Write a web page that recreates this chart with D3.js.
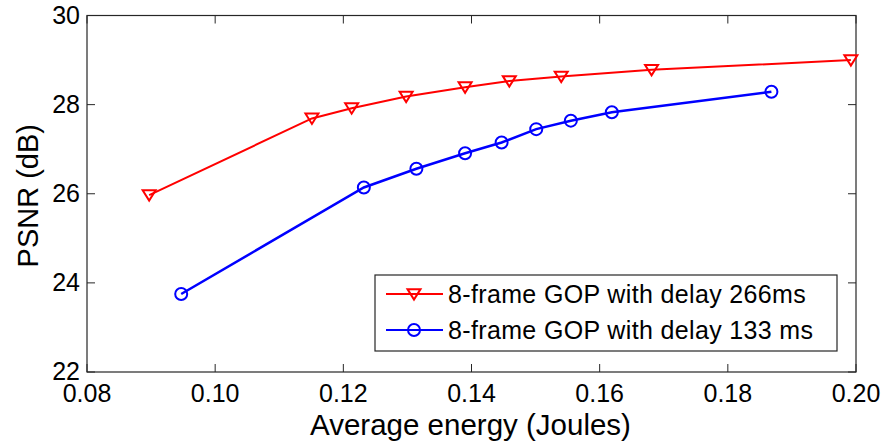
<!DOCTYPE html>
<html>
<head>
<meta charset="utf-8">
<script src="https://cdn.jsdelivr.net/npm/d3@7"></script>
<style>
  body { margin: 0; background: #fff; }
  svg { display: block; font-family: "Liberation Sans", Arial, sans-serif; }
</style>
</head>
<body>
<svg id="svg" width="886" height="444"></svg>
<script>
const w = 886;
const h = 444;
const padLeft = 87, padRight = 856, padTop = 15.5, padBottom = 372;

// data
const energy266 = [0.0897, 0.1151, 0.1213, 0.1298, 0.1390, 0.1459, 0.1540, 0.1681, 0.1992];
const psnr266 = [25.97, 27.69, 27.92, 28.18, 28.39, 28.53, 28.63, 28.78, 29.0];
const energy133 = [0.0947, 0.1232, 0.1314, 0.1390, 0.1447, 0.1501, 0.1555, 0.1619, 0.1868];
const psnr133 = [23.75, 26.14, 26.56, 26.91, 27.15, 27.45, 27.64, 27.83, 28.29];
const xTicks = [0.08, 0.10, 0.12, 0.14, 0.16, 0.18, 0.20];
const yTicks = [22, 24, 26, 28, 30];
const seriesNames = ["8-frame GOP with delay 266ms", "8-frame GOP with delay 133 ms"];

let svg = d3.select("#svg");

let xScale = d3.scaleLinear([0.08, 0.20], [padLeft, padRight]);
let yScale = d3.scaleLinear([22, 30], [padBottom, padTop]);

const tickLen = 8;
const axisColor = "#262626";

// ticks, inward on all four sides
let tickG = svg.append("g").attr("stroke", axisColor).attr("stroke-width", 1);
xTicks.forEach((t) => {
  tickG.append("line").attr("x1", xScale(t)).attr("x2", xScale(t)).attr("y1", padBottom).attr("y2", padBottom - tickLen);
  tickG.append("line").attr("x1", xScale(t)).attr("x2", xScale(t)).attr("y1", padTop).attr("y2", padTop + tickLen);
});
yTicks.forEach((t) => {
  tickG.append("line").attr("y1", yScale(t)).attr("y2", yScale(t)).attr("x1", padLeft).attr("x2", padLeft + tickLen);
  tickG.append("line").attr("y1", yScale(t)).attr("y2", yScale(t)).attr("x1", padRight).attr("x2", padRight - tickLen);
});

// frame
svg.append("rect")
  .attr("x", padLeft).attr("y", padTop)
  .attr("width", padRight - padLeft).attr("height", padBottom - padTop)
  .attr("fill", "none").attr("stroke", axisColor).attr("stroke-width", 1.2);

// tick labels
svg.append("g").selectAll("text").data(xTicks).join("text")
  .attr("x", (d) => xScale(d)).attr("y", 402)
  .attr("text-anchor", "middle").attr("font-size", 25).attr("fill", "#000")
  .text((d) => d3.format(".2f")(d));

svg.append("g").selectAll("text").data(yTicks).join("text")
  .attr("x", 80).attr("y", (d) => yScale(d) + 8)
  .attr("text-anchor", "end").attr("font-size", 25).attr("fill", "#000")
  .text((d) => d);

// axis titles
svg.append("text")
  .attr("x", (padLeft + padRight) / 2 - 1).attr("y", 435)
  .attr("text-anchor", "middle").attr("font-size", 29.5)
  .text("Average energy (Joules)");

svg.append("text")
  .attr("transform", `translate(38, ${(padTop + padBottom) / 2 + 2}) rotate(-90)`)
  .attr("text-anchor", "middle").attr("font-size", 29)
  .text("PSNR (dB)");

// lines
let lineFunc = d3.line()
  .x((d) => xScale(d[0]))
  .y((d) => yScale(d[1]));

const data266 = energy266.map((e, i) => [e, psnr266[i]]);
const data133 = energy133.map((e, i) => [e, psnr133[i]]);

const triPath = (s) => `M${-s},${-s * 0.75}L${s},${-s * 0.75}L0,${s * 0.85}Z`;

svg.append("path").datum(data266)
  .attr("fill", "none").attr("stroke", "#ff0000").attr("stroke-width", 2)
  .attr("d", lineFunc);
svg.append("g").selectAll("path").data(data266).join("path")
  .attr("transform", (d) => `translate(${xScale(d[0])},${yScale(d[1])})`)
  .attr("d", triPath(6.5))
  .attr("fill", "none").attr("stroke", "#ff0000").attr("stroke-width", 2);

svg.append("path").datum(data133)
  .attr("fill", "none").attr("stroke", "#0000ff").attr("stroke-width", 2.5)
  .attr("d", lineFunc);
svg.append("g").selectAll("circle").data(data133).join("circle")
  .attr("cx", (d) => xScale(d[0])).attr("cy", (d) => yScale(d[1]))
  .attr("r", 6)
  .attr("fill", "none").attr("stroke", "#0000ff").attr("stroke-width", 2);

// legend
let legend = svg.append("g");
legend.append("rect")
  .attr("x", 375).attr("y", 275).attr("width", 462).attr("height", 76)
  .attr("fill", "#fff").attr("stroke", axisColor).attr("stroke-width", 1.2);

const rowY = [294, 330];
const colors = ["#ff0000", "#0000ff"];
seriesNames.forEach((name, i) => {
  legend.append("line")
    .attr("x1", 386).attr("x2", 443).attr("y1", rowY[i]).attr("y2", rowY[i])
    .attr("stroke", colors[i]).attr("stroke-width", 2);
  if (i === 0) {
    legend.append("path")
      .attr("transform", `translate(414,${rowY[i]})`)
      .attr("d", triPath(6.5))
      .attr("fill", "none").attr("stroke", colors[i]).attr("stroke-width", 2);
  } else {
    legend.append("circle")
      .attr("cx", 414).attr("cy", rowY[i]).attr("r", 6)
      .attr("fill", "none").attr("stroke", colors[i]).attr("stroke-width", 2);
  }
  legend.append("text")
    .attr("x", 448).attr("y", rowY[i] + 9)
    .attr("font-size", 25).attr("letter-spacing", 0.35)
    .text(name);
});
</script>
</body>
</html>
